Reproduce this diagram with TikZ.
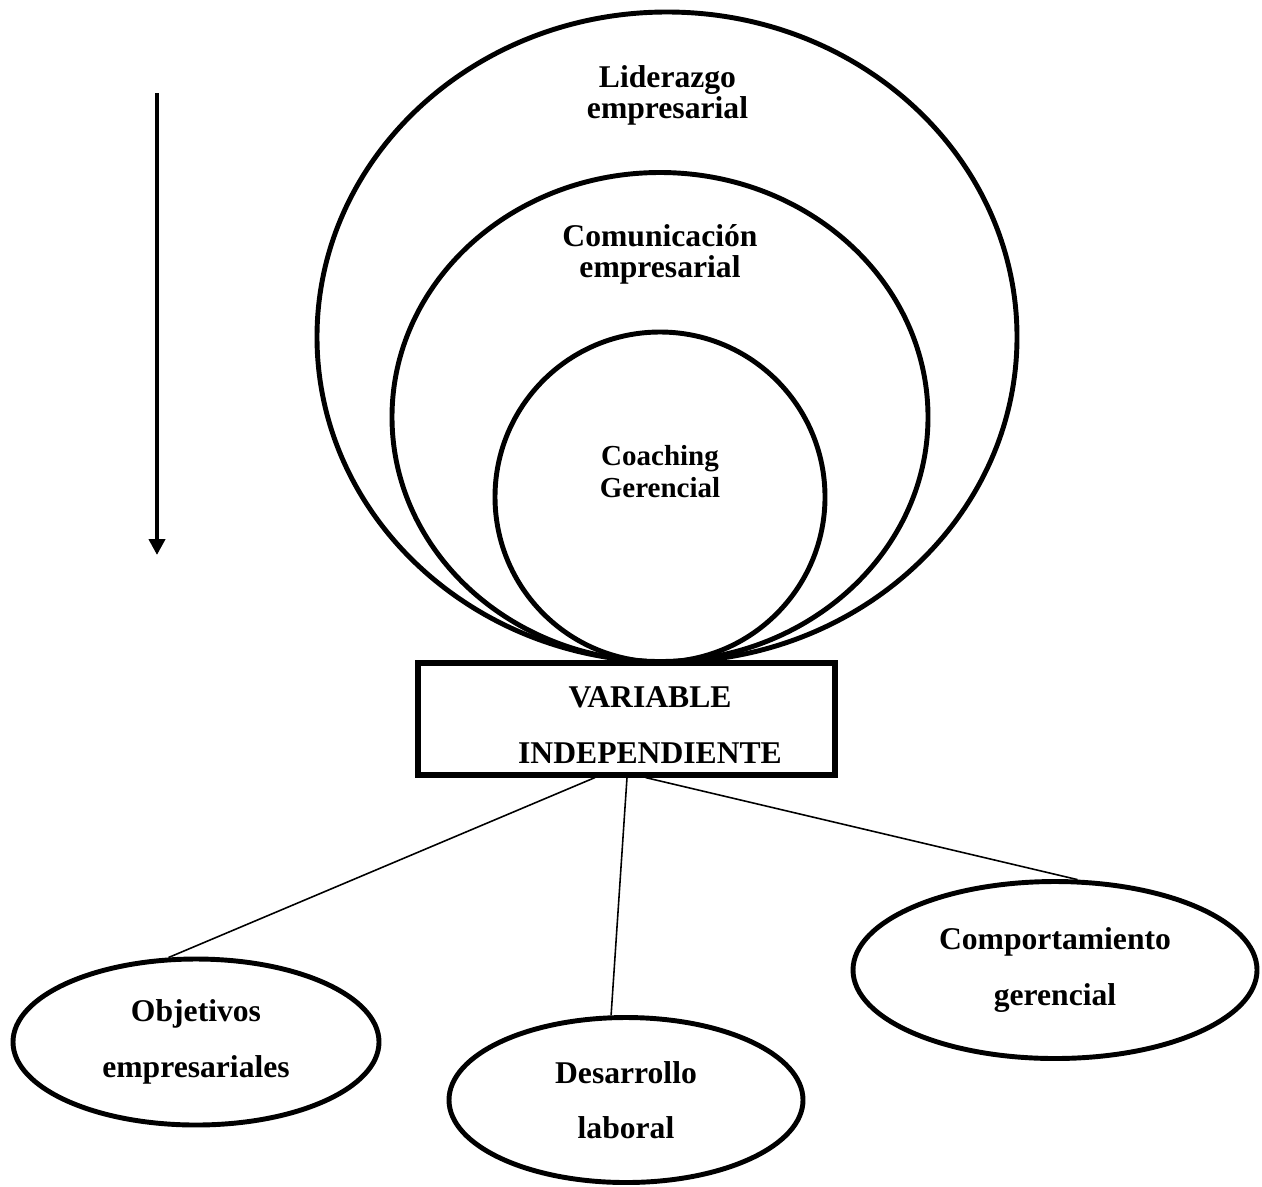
\documentclass[tikz,border=0pt]{standalone}
\usepackage{fontspec}
\setmainfont{Liberation Serif}
\usetikzlibrary{arrows.meta,shapes.geometric}

\begin{document}
\begin{tikzpicture}[every node/.style={font=\bfseries\fontsize{18}{17.6}\selectfont, inner sep=0pt},
  >={Triangle[width=3.2mm,length=3.2mm]},
  ring/.style={draw, ellipse, line width=2.8pt},
  vbox/.style={draw, rectangle, line width=2.9pt, minimum width=8.34cm, minimum height=2.24cm},
  dim/.style={draw, ellipse, line width=2.8pt, align=center, font=\bfseries\fontsize{18}{31.5}\selectfont},
  lab/.style={align=center, anchor=base},
  link/.style={line width=0.9pt},
  flow/.style={->, line width=2.5pt}]
	\useasboundingbox (0,0) rectangle (25.24,-23.72);
	% nested circles
	\node[ring, minimum width=14cm, minimum height=13cm] (lid) at (13.34,-6.74) {};
	\node[ring, minimum width=10.72cm, minimum height=9.78cm] (com) at (13.2,-8.34) {};
	\node[ring, minimum width=6.6cm, minimum height=6.6cm] (coa) at (13.2,-9.94) {};
	\node[lab] (lidtxt) at (13.35,-2.36) {Liderazgo\\empresarial};
	\node[lab] (comtxt) at (13.2,-5.54) {Comunicación\\empresarial};
	\node[lab, font=\bfseries\fontsize{16.5}{18.2}\selectfont] (coatxt) at (13.2,-9.94) {Coaching\\Gerencial};
	% arrow on the left
	\coordinate (arrtop) at (3.14,-1.86);
	\coordinate (arrbot) at (3.14,-11.10);
	\draw[flow] (arrtop) -- (arrbot);
	% variable box
	\node[vbox] (box) at (12.53,-14.38) {};
	\node[align=center, font=\bfseries\fontsize{18}{31.5}\selectfont] (boxtxt) at (13.0,-14.5) {VARIABLE\\INDEPENDIENTE};
	% dimensions
	\node[dim, minimum width=7.32cm, minimum height=3.32cm] (obj) at (3.92,-20.84) {Objetivos\\empresariales};
	\node[dim, minimum width=7.08cm, minimum height=3.3cm] (des) at (12.52,-22.0) {Desarrollo\\laboral};
	\node[dim, minimum width=8.08cm, minimum height=3.54cm] (cmp) at (21.1,-19.4) {Comportamiento\\gerencial};
	\draw[link] ([xshift=-0.63cm]box.south) -- (obj.108);
	\draw[link] ([xshift=0.01cm]box.south) -- (des.100);
	\draw[link] ([xshift=0.38cm]box.south) -- (cmp.76);
\end{tikzpicture}
\end{document}
